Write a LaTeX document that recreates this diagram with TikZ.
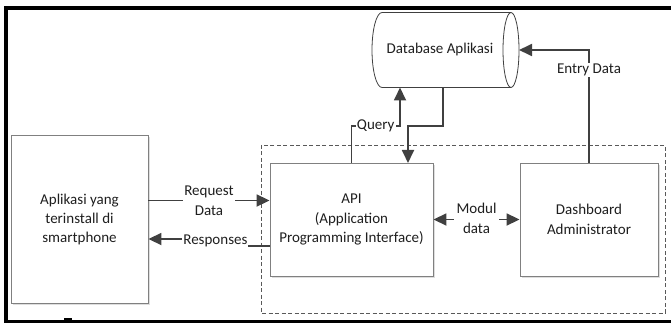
\documentclass[tikz,border=0pt]{standalone}
\usepackage{fontspec}
\setmainfont{Carlito}
\usetikzlibrary{arrows.meta,shadows}
\definecolor{lineC}{HTML}{404040}
\definecolor{boxC}{HTML}{808080}
\definecolor{txtC}{HTML}{1F1F1F}
\tikzset{
  box/.style={draw=boxC, line width=0.9pt, fill=white, rectangle,
    align=center, text=txtC, font=\fontsize{15}{19.5}\selectfont,
    drop shadow={shadow xshift=1.8pt,shadow yshift=-1.8pt,fill=black!13,opacity=1}},
  arr/.style={draw=lineC, line width=1.8pt, -{Triangle[length=13pt,width=12pt]}},
  arrb/.style={draw=lineC, line width=1.8pt, {Triangle[length=13pt,width=12pt]}-{Triangle[length=13pt,width=12pt]}},
  lbl/.style={fill=white, inner sep=1pt, text=txtC, align=center, font=\fontsize{15}{19.5}\selectfont},
  plain/.style={text=txtC, align=center, font=\fontsize{15}{19.5}\selectfont}
}
\begin{document}
\begin{tikzpicture}[x=1pt,y=-1pt]
\useasboundingbox (0,0) rectangle (671,323);
% black frame
\fill[black] (4,6) rectangle (671,10);
\fill[black] (4,6) rectangle (8,323);
\fill[black] (4,319.5) rectangle (671,323);
\fill[black] (64,317.5) rectangle (72,319.5);
% dashed container
\draw[draw=black!65, line width=0.8pt, dash pattern=on 4pt off 2.5pt] (261,145) rectangle (665,313);
% boxes
\node[box, minimum width=137pt, minimum height=168pt] (app) at (79.5,219.5)
  {Aplikasi yang\\terinstall di\\smartphone};
\node[box, minimum width=163pt, minimum height=113pt] (api) at (351.5,219.5)
  {API\\(Application\\Programming Interface)};
\node[box, minimum width=138pt, minimum height=113pt] (dash) at (589,219.5)
  {Dashboard\\Administrator};
% database cylinder
\draw[draw=lineC, line width=0.8pt, fill=white]
  (382,12.5) -- (511,12.5) arc[start angle=90,end angle=-90,x radius=8pt,y radius=37.5pt]
  -- (382,87.5) arc[start angle=270,end angle=90,x radius=10pt,y radius=37.5pt] -- cycle;
\draw[draw=lineC, line width=0.8pt]
  (511,12.5) arc[start angle=90,end angle=270,x radius=8pt,y radius=37.5pt];
\node[plain] (db) at (440,50) {Database Aplikasi};
\coordinate (dbq) at (400,87.5);
\coordinate (dbo) at (443,87.5);
\coordinate (dbe) at (519,50);
\coordinate (qy) at (0,126);
\coordinate (apiin) at (408,163);
% connectors
\draw[arr] (api.north) |- node[lbl,pos=0.75] (lq) {Query} (dbq |- qy) -- (dbq);
\draw[arr] (dbo) -- (dbo |- qy) -| (apiin);
\draw[arr] (dash.north) |- node[lbl,pos=0.41] (le) {Entry Data} (dbe);
\draw[arr] ([yshift=19pt]app.east) -- node[lbl,pos=0.5] (lr) {Request\\Data} ([yshift=19pt]api.west);
\draw[arr] ([yshift=-26.5pt]api.west) -- ++(-22,0) |- node[lbl,pos=0.5,anchor=east,xshift=1.8pt,yshift=-2pt,inner ysep=3pt] (lres) {Responses} ([yshift=-19.5pt]app.east);
\draw[arrb] (api.east) -- node[lbl,inner sep=3pt,yshift=1pt] (lm) {Modul\\data} (dash.west);
\end{tikzpicture}
\end{document}
